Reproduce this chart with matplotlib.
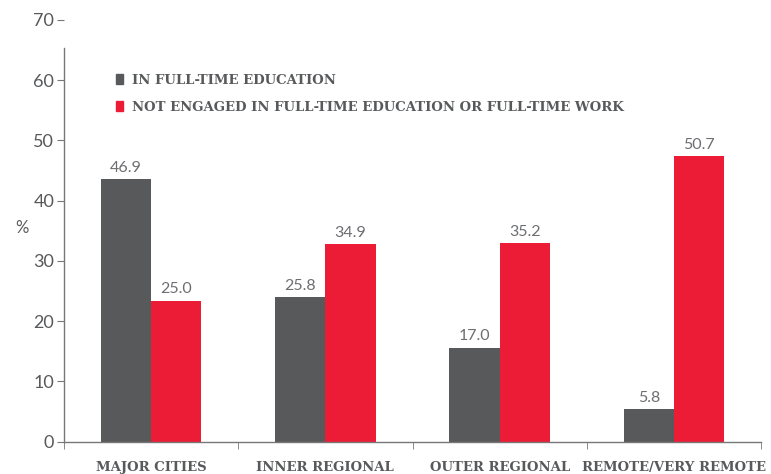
import matplotlib
matplotlib.use("Agg")
import matplotlib.pyplot as plt
import numpy as np
from matplotlib.patches import Patch

categories = ["MAJOR CITIES", "INNER REGIONAL", "OUTER REGIONAL", "REMOTE/VERY REMOTE"]
series_names = ["IN FULL-TIME EDUCATION",
                "NOT ENGAGED IN FULL-TIME EDUCATION OR FULL-TIME WORK"]
# bar heights as drawn against the axis
edu_heights = [43.6, 24.0, 15.6, 5.4]
neet_heights = [23.4, 32.8, 32.9, 47.4]
# value labels as printed
edu_labels = ["46.9", "25.8", "17.0", "5.8"]
neet_labels = ["25.0", "34.9", "35.2", "50.7"]
yticks = [0, 10, 20, 30, 40, 50, 60, 70]

DARK = "#58595b"
RED = "#ed1c36"
TXT = "#58595b"

fig = plt.figure(figsize=(7.71, 4.74), dpi=100)
ax = fig.add_axes([64/771, 1-441.5/474, (761-64)/771, (441.5-20)/474])

x = np.arange(len(categories))
w = 0.288
b1 = ax.bar(x - w/2, edu_heights, w, color=DARK, label=series_names[0])
b2 = ax.bar(x + w/2, neet_heights, w, color=RED, label=series_names[1])

for bars, labs in ((b1, edu_labels), (b2, neet_labels)):
    for r, lab in zip(bars, labs):
        ax.annotate(lab, (r.get_x() + r.get_width()/2, r.get_height()),
                    xytext=(0, 3), textcoords="offset points",
                    ha="center", va="bottom", fontsize=11.5,
                    color="#6d6e71", family="Lato")

ax.set_xlim(-0.5, len(categories) - 0.5)
ax.set_ylim(0, 70)
ax.set_yticks(yticks)
ax.set_yticklabels([str(t) for t in yticks],
                   fontsize=13, color=TXT, family="Lato")
ax.set_xticks(x)
ax.set_xticklabels(categories, fontsize=9.5, fontweight="bold",
                   color=TXT, family="DejaVu Serif")
ax.set_xticks(np.arange(-0.5, len(categories)), minor=True)
ax.tick_params(axis="x", which="major", length=0, pad=14)
ax.tick_params(axis="x", which="minor", length=5, color="#777777", direction="out")
ax.tick_params(axis="y", length=5, color="#777777", direction="out", pad=2)

for s in ("top", "right"):
    ax.spines[s].set_visible(False)
for s in ("left", "bottom"):
    ax.spines[s].set_color("#777777")
    ax.spines[s].set_linewidth(1.0)
ax.spines["left"].set_bounds(0, 65.4)

ax.text(15/771, 1-228/474, "%", transform=fig.transFigure, fontsize=12,
        color=TXT, family="Lato", ha="left", va="center")

handles = [Patch(color=DARK), Patch(color=RED)]
leg = fig.legend(handles, series_names, loc="upper left",
                 bbox_to_anchor=(104/771, 1-62/474), frameon=False,
                 handlelength=0.55, handleheight=0.75, handletextpad=0.7,
                 labelspacing=1.05,
                 prop={"family": "DejaVu Serif", "weight": "bold", "size": 9.5})
for t in leg.get_texts():
    t.set_color(TXT)

fig.savefig("out.png", dpi=100)
